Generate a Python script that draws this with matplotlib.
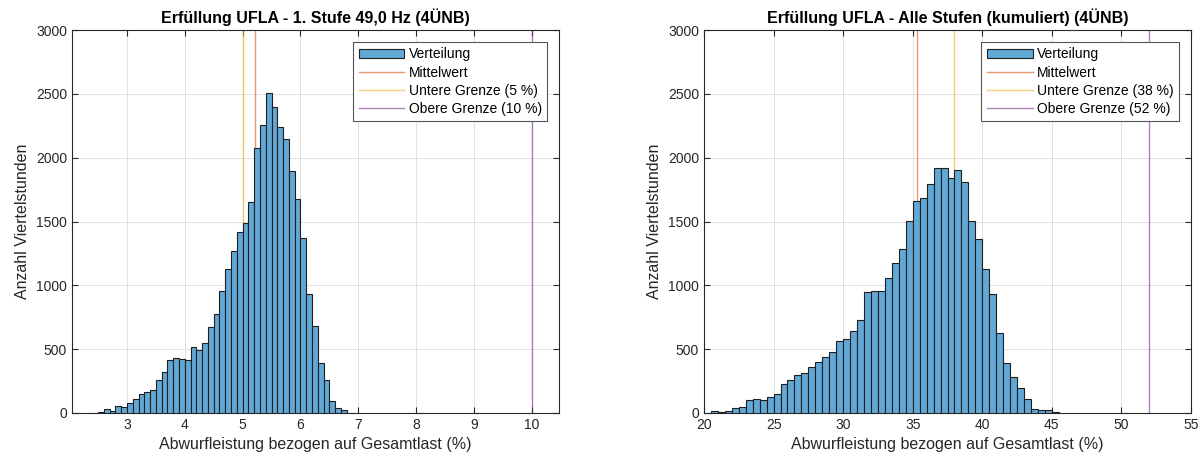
import numpy as np
import matplotlib.pyplot as plt

plt.rcParams['font.family'] = ['Liberation Sans', 'DejaVu Sans']

# Stufe 1: Bins 0,1 %-breit ab 2,4 %
bin_start_1 = 2.4
bin_width_1 = 0.1
counts_1 = [3, 5, 31, 16, 55, 47, 76, 112, 146, 167,
            180, 256, 321, 412, 428, 423, 418, 517, 496, 548,
            673, 775, 955, 1127, 1271, 1417, 1487, 1649, 2077, 2257,
            2505, 2396, 2239, 2148, 1897, 1675, 1367, 934, 681, 389,
            261, 97, 42, 23, 3]
mean_1 = 5.21
lower_1 = 5
upper_1 = 10

# alle Stufen kumuliert: Bins 0,5 %-breit ab 20,5 %
bin_start_all = 20.5
bin_width_all = 0.5
counts_all = [13, 5, 18, 42, 50, 99, 112, 104, 128, 151,
              230, 261, 300, 316, 363, 402, 436, 480, 561, 582,
              645, 731, 945, 956, 956, 1060, 1172, 1285, 1507, 1661,
              1681, 1796, 1916, 1916, 1841, 1901, 1809, 1507, 1360, 1125,
              930, 629, 394, 282, 193, 110, 34, 26, 21, 5]
mean_all = 35.33
lower_all = 38
upper_all = 52

titles = ['Erfüllung UFLA - 1. Stufe 49,0 Hz (4ÜNB)',
          'Erfüllung UFLA - Alle Stufen (kumuliert) (4ÜNB)']
xlabel = 'Abwurfleistung bezogen auf Gesamtlast (%)'
ylabel = 'Anzahl Viertelstunden'

bar_color = '#62A8D7'
c_mean = '#D95319'
c_low = '#EDB120'
c_up = '#7E2F8E'
ax_col = '#262626'

fig = plt.figure(figsize=(12.03, 4.62), dpi=100)
ax1 = fig.add_axes([72 / 1203, 49 / 462, 487 / 1203, 383 / 462])
ax2 = fig.add_axes([704 / 1203, 49 / 462, 487 / 1203, 383 / 462])

panels = [
    (ax1, bin_start_1, bin_width_1, counts_1, mean_1, lower_1, upper_1,
     (2.05, 10.47), np.arange(3, 11, 1), '5 %', '10 %'),
    (ax2, bin_start_all, bin_width_all, counts_all, mean_all, lower_all, upper_all,
     (20, 55), np.arange(20, 56, 5), '38 %', '52 %'),
]

for i, (ax, b0, bw, counts, m, lo, up, xlim, xticks, lo_txt, up_txt) in enumerate(panels):
    left_edges = b0 + bw * np.arange(len(counts))
    h_bar = ax.bar(left_edges, counts, width=bw, align='edge', color=bar_color,
                   edgecolor='#1f1f1f', linewidth=0.8, label='Verteilung', zorder=3)
    h_m = ax.axvline(m, color=c_mean, lw=1, alpha=0.6, label='Mittelwert', zorder=2)
    h_lo = ax.axvline(lo, color=c_low, lw=1, alpha=0.6,
                      label='Untere Grenze (' + lo_txt + ')', zorder=2)
    h_up = ax.axvline(up, color=c_up, lw=1, alpha=0.6,
                      label='Obere Grenze (' + up_txt + ')', zorder=2)

    ax.set_xlim(*xlim)
    ax.set_ylim(0, 3000)
    ax.set_xticks(xticks)
    ax.set_yticks(np.arange(0, 3001, 500))
    ax.grid(True, color='#dcdcdc', linewidth=0.6, zorder=0)
    ax.set_axisbelow(True)
    ax.tick_params(direction='in', length=4, top=True, right=True,
                   colors=ax_col, labelsize=10, labelcolor=ax_col)
    for sp in ax.spines.values():
        sp.set_color(ax_col)
        sp.set_linewidth(0.8)

    ax.set_title(titles[i], fontsize=11.5, fontweight='bold', color='black', pad=5)
    ax.set_xlabel(xlabel, fontsize=11.5, color=ax_col, labelpad=4)
    ax.set_ylabel(ylabel, fontsize=11.5, color=ax_col)

    leg = ax.legend(handles=[h_bar, h_m, h_lo, h_up], loc='upper right',
                    fontsize=10, frameon=True, fancybox=False,
                    framealpha=1, edgecolor='#555555', borderaxespad=0.85,
                    handlelength=3.3, labelspacing=0.3, handletextpad=0.3,
                    borderpad=0.4)
    leg.get_frame().set_linewidth(0.8)

plt.savefig('out.png', dpi=100)
